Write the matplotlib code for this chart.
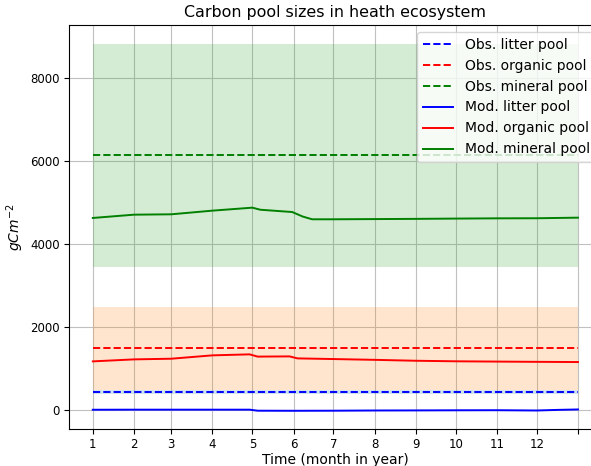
import matplotlib
matplotlib.use("Agg")
import matplotlib.pyplot as plt
import numpy as np

# month starts (days) and labels
month_days = [0, 31, 59, 90, 120, 151, 181, 212, 243, 273, 304, 334, 365]
month_labels = ["1", "2", "3", "4", "5", "6", "7", "8", "9", "10", "11", "12", ""]

# observations (mean, half-width of band)
obs_litter = 440
obs_litter_err = 55
obs_organic = 1490
obs_organic_err = 995
obs_mineral = 6140
obs_mineral_err = 2685

# modelled pools (day, value)
mod_litter_days = [0, 31, 59, 90, 118, 124, 151, 181, 212, 243, 273, 304, 334, 350, 365]
mod_litter_vals = [8, 10, 10, 10, 10, -15, -17, -15, -10, -8, -5, -3, -10, 5, 15]

mod_organic_days = [0, 31, 59, 90, 118, 124, 148, 154, 181, 212, 243, 273, 304, 334, 365]
mod_organic_vals = [1173, 1221, 1237, 1318, 1342, 1288, 1293, 1245, 1229, 1210, 1188, 1175, 1168, 1162, 1157]

mod_mineral_days = [0, 31, 59, 90, 120, 126, 150, 158, 165, 181, 212, 243, 273, 304, 334, 365]
mod_mineral_vals = [4627, 4706, 4715, 4803, 4875, 4825, 4770, 4660, 4595, 4595, 4600, 4605, 4612, 4618, 4620, 4634]

fig = plt.figure(figsize=(5.91, 4.66), dpi=100)
ax = fig.add_axes([0.116, 0.079, 0.903, 0.867])

x0, x1 = 0, 365
ax.fill_between([x0, x1], obs_mineral - obs_mineral_err, obs_mineral + obs_mineral_err,
                color="tab:green", alpha=0.2, linewidth=0)
ax.fill_between([x0, x1], obs_organic - obs_organic_err, obs_organic + obs_organic_err,
                color="tab:orange", alpha=0.2, linewidth=0)
ax.fill_between([x0, x1], obs_litter - obs_litter_err, obs_litter + obs_litter_err,
                color="tab:blue", alpha=0.2, linewidth=0)

ax.plot([x0, x1], [obs_litter] * 2, "b--", lw=1.4, label="Obs. litter pool")
ax.plot([x0, x1], [obs_organic] * 2, "r--", lw=1.4, label="Obs. organic pool")
ax.plot([x0, x1], [obs_mineral] * 2, "g--", lw=1.4, label="Obs. mineral pool")
ax.plot(mod_litter_days, mod_litter_vals, "b-", lw=1.4, label="Mod. litter pool")
ax.plot(mod_organic_days, mod_organic_vals, "r-", lw=1.4, label="Mod. organic pool")
ax.plot(mod_mineral_days, mod_mineral_vals, "g-", lw=1.4, label="Mod. mineral pool")

ax.set_xticks(month_days)
ax.set_xticklabels(month_labels)
ax.set_yticks([0, 2000, 4000, 6000, 8000])
ax.tick_params(labelsize=8.5, pad=3)
ax.grid(True, color="#c0c0c0", lw=0.8)
ax.set_axisbelow(True)
ax.set_xlim(-18.25, 383.25)
ax.set_ylim(-460, 9270)

ax.set_title("Carbon pool sizes in heath ecosystem", fontsize=11.4)
ax.set_xlabel("Time (month in year)", fontsize=10, labelpad=1)
ax.set_ylabel("$gCm^{-2}$", fontsize=10, labelpad=3)
ax.legend(loc="upper right", fontsize=10, handlelength=2.2, borderaxespad=0.5)

fig.savefig("out.png", dpi=100)
